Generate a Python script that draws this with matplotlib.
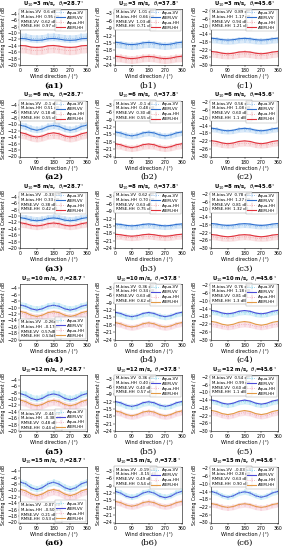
import matplotlib
matplotlib.use('Agg')
import matplotlib.pyplot as plt
import numpy as np

# wind direction samples (deg)
wind_dir = [0, 30, 60, 90, 120, 150, 180, 210, 240, 270, 300, 330, 360]

wind_speed = [3, 6, 8, 10, 12, 15]
inc_angle = [28.7, 37.8, 45.6]
col_letter = ['a', 'b', 'c']

# panels in row order: a1 b1 c1 a2 b2 c2 ...
aiem_vv = [
    [-11.7, -11.8, -12.2, -12.3, -12.2, -11.8, -11.7, -11.9, -12.2, -12.3, -12.2, -11.8, -11.7],
    [-14.7, -15.0, -15.5, -15.7, -15.5, -15.0, -14.8, -15.0, -15.5, -15.7, -15.5, -15.0, -14.7],
    [-16.1, -16.4, -16.9, -17.1, -16.9, -16.4, -16.2, -16.4, -16.9, -17.1, -16.9, -16.4, -16.1],
    [-10.2, -10.6, -11.4, -11.8, -11.4, -10.6, -10.3, -10.6, -11.4, -11.8, -11.4, -10.6, -10.2],
    [-14.0, -14.4, -15.2, -15.6, -15.2, -14.4, -14.1, -14.4, -15.2, -15.6, -15.2, -14.4, -14.0],
    [-15.3, -15.7, -16.4, -16.7, -16.4, -15.7, -15.4, -15.7, -16.4, -16.7, -16.4, -15.7, -15.3],
    [-10.5, -10.8, -11.3, -11.5, -11.3, -10.8, -10.6, -10.8, -11.3, -11.5, -11.3, -10.8, -10.5],
    [-14.2, -14.4, -14.8, -15.0, -14.8, -14.4, -14.2, -14.4, -14.8, -15.0, -14.8, -14.4, -14.2],
    [-17.3, -17.6, -18.1, -18.3, -18.1, -17.6, -17.4, -17.6, -18.1, -18.3, -18.1, -17.6, -17.3],
    [-9.2, -9.6, -10.4, -10.8, -10.4, -9.6, -9.3, -9.6, -10.4, -10.8, -10.4, -9.6, -9.2],
    [-12.9, -13.4, -14.3, -14.7, -14.3, -13.4, -13.0, -13.4, -14.3, -14.7, -14.3, -13.4, -12.9],
    [-14.9, -15.4, -16.3, -16.7, -16.3, -15.4, -15.0, -15.4, -16.3, -16.7, -16.3, -15.4, -14.9],
    [-8.3, -8.8, -9.8, -10.3, -9.8, -8.8, -8.4, -8.8, -9.8, -10.3, -9.8, -8.8, -8.3],
    [-12.0, -12.5, -13.5, -14.0, -13.5, -12.5, -12.1, -12.5, -13.5, -14.0, -13.5, -12.5, -12.0],
    [-13.9, -14.5, -15.6, -16.1, -15.6, -14.5, -14.0, -14.5, -15.6, -16.1, -15.6, -14.5, -13.9],
    [-7.3, -7.9, -9.1, -9.7, -9.1, -7.9, -7.4, -8.0, -9.1, -9.7, -9.1, -7.9, -7.3],
    [-11.3, -12.0, -13.3, -13.9, -13.3, -12.0, -11.4, -12.0, -13.3, -13.9, -13.3, -12.0, -11.3],
    [-13.9, -14.7, -16.2, -16.9, -16.2, -14.7, -14.1, -14.7, -16.2, -16.9, -16.2, -14.7, -13.9],
]
aqua_vv = [
    [-11.2, -11.3, -11.7, -11.8, -11.7, -11.3, -11.2, -11.4, -11.7, -11.8, -11.7, -11.3, -11.2],
    [-15.4, -15.6, -16.0, -16.2, -16.0, -15.6, -15.4, -15.6, -16.0, -16.2, -16.0, -15.6, -15.4],
    [-16.9, -17.1, -17.5, -17.7, -17.5, -17.1, -16.9, -17.1, -17.5, -17.7, -17.5, -17.1, -16.9],
    [-10.2, -10.6, -11.3, -11.6, -11.3, -10.6, -10.3, -10.6, -11.3, -11.6, -11.3, -10.6, -10.2],
    [-14.3, -14.7, -15.4, -15.7, -15.4, -14.7, -14.4, -14.7, -15.4, -15.7, -15.4, -14.7, -14.3],
    [-15.9, -16.2, -16.8, -17.1, -16.8, -16.2, -16.0, -16.2, -16.8, -17.1, -16.8, -16.2, -15.9],
    [-10.3, -10.5, -10.9, -11.1, -10.9, -10.5, -10.3, -10.5, -10.9, -11.1, -10.9, -10.5, -10.3],
    [-14.8, -14.9, -15.3, -15.4, -15.3, -14.9, -14.8, -15.0, -15.3, -15.4, -15.3, -14.9, -14.8],
    [-18.1, -18.3, -18.7, -18.9, -18.7, -18.3, -18.1, -18.3, -18.7, -18.9, -18.7, -18.3, -18.1],
    [-9.1, -9.5, -10.2, -10.5, -10.2, -9.5, -9.2, -9.5, -10.2, -10.5, -10.2, -9.5, -9.1],
    [-13.3, -13.7, -14.5, -14.9, -14.5, -13.7, -13.4, -13.7, -14.5, -14.9, -14.5, -13.7, -13.3],
    [-15.7, -16.1, -16.9, -17.3, -16.9, -16.1, -15.8, -16.1, -16.9, -17.3, -16.9, -16.1, -15.7],
    [-8.1, -8.6, -9.5, -9.9, -9.5, -8.6, -8.2, -8.6, -9.5, -9.9, -9.5, -8.6, -8.1],
    [-12.4, -12.9, -13.8, -14.2, -13.8, -12.9, -12.5, -12.9, -13.8, -14.2, -13.8, -12.9, -12.4],
    [-14.6, -15.1, -16.1, -16.6, -16.1, -15.1, -14.7, -15.1, -16.1, -16.6, -16.1, -15.1, -14.6],
    [-7.3, -7.9, -9.0, -9.5, -9.0, -7.9, -7.4, -7.9, -9.0, -9.5, -9.0, -7.9, -7.3],
    [-11.2, -11.8, -13.0, -13.6, -13.0, -11.8, -11.3, -11.9, -13.0, -13.6, -13.0, -11.8, -11.2],
    [-14.0, -14.7, -16.1, -16.8, -16.1, -14.7, -14.1, -14.8, -16.1, -16.8, -16.1, -14.7, -14.0],
]
aiem_hh = [
    [-13.9, -14.0, -14.4, -14.5, -14.4, -14.0, -13.9, -14.1, -14.4, -14.5, -14.4, -14.0, -13.9],
    [-20.4, -20.7, -21.2, -21.4, -21.2, -20.7, -20.5, -20.7, -21.2, -21.4, -21.2, -20.7, -20.4],
    [-23.0, -23.3, -23.9, -24.2, -23.9, -23.3, -23.1, -23.3, -23.9, -24.2, -23.9, -23.3, -23.0],
    [-12.5, -12.9, -13.6, -13.9, -13.6, -12.9, -12.6, -12.9, -13.6, -13.9, -13.6, -12.9, -12.5],
    [-18.8, -19.2, -20.0, -20.4, -20.0, -19.2, -18.9, -19.2, -20.0, -20.4, -20.0, -19.2, -18.8],
    [-21.8, -22.2, -23.0, -23.4, -23.0, -22.2, -21.9, -22.2, -23.0, -23.4, -23.0, -22.2, -21.8],
    [-12.1, -12.4, -12.9, -13.1, -12.9, -12.4, -12.2, -12.4, -12.9, -13.1, -12.9, -12.4, -12.1],
    [-18.4, -18.6, -19.0, -19.2, -19.0, -18.6, -18.4, -18.6, -19.0, -19.2, -19.0, -18.6, -18.4],
    [-23.0, -23.3, -23.9, -24.2, -23.9, -23.3, -23.1, -23.3, -23.9, -24.2, -23.9, -23.3, -23.0],
    [-11.2, -11.6, -12.4, -12.8, -12.4, -11.6, -11.3, -11.6, -12.4, -12.8, -12.4, -11.6, -11.2],
    [-17.1, -17.6, -18.5, -18.9, -18.5, -17.6, -17.2, -17.6, -18.5, -18.9, -18.5, -17.6, -17.1],
    [-20.6, -21.1, -22.1, -22.6, -22.1, -21.1, -20.7, -21.1, -22.1, -22.6, -22.1, -21.1, -20.6],
    [-10.3, -10.8, -11.7, -12.1, -11.7, -10.8, -10.4, -10.8, -11.7, -12.1, -11.7, -10.8, -10.3],
    [-15.8, -16.3, -17.3, -17.8, -17.3, -16.3, -15.9, -16.3, -17.3, -17.8, -17.3, -16.3, -15.8],
    [-19.3, -19.9, -21.0, -21.5, -21.0, -19.9, -19.4, -19.9, -21.0, -21.5, -21.0, -19.9, -19.3],
    [-9.6, -10.1, -11.1, -11.6, -11.1, -10.1, -9.7, -10.1, -11.1, -11.6, -11.1, -10.1, -9.6],
    [-15.4, -15.9, -16.9, -17.4, -16.9, -15.9, -15.5, -15.9, -16.9, -17.4, -16.9, -15.9, -15.4],
    [-20.2, -20.7, -21.7, -22.2, -21.7, -20.7, -20.3, -20.7, -21.7, -22.2, -21.7, -20.7, -20.2],
]
aqua_hh = [
    [-14.9, -15.0, -15.4, -15.5, -15.4, -15.0, -14.9, -15.1, -15.4, -15.5, -15.4, -15.0, -14.9],
    [-21.0, -21.2, -21.6, -21.8, -21.6, -21.2, -21.0, -21.2, -21.6, -21.8, -21.6, -21.2, -21.0],
    [-24.1, -24.4, -24.9, -25.1, -24.9, -24.4, -24.2, -24.4, -24.9, -25.1, -24.9, -24.4, -24.1],
    [-13.2, -13.5, -14.1, -14.4, -14.1, -13.5, -13.3, -13.5, -14.1, -14.4, -14.1, -13.5, -13.2],
    [-19.5, -19.8, -20.4, -20.7, -20.4, -19.8, -19.6, -19.8, -20.4, -20.7, -20.4, -19.8, -19.5],
    [-23.0, -23.3, -23.9, -24.2, -23.9, -23.3, -23.1, -23.3, -23.9, -24.2, -23.9, -23.3, -23.0],
    [-12.5, -12.7, -13.1, -13.3, -13.1, -12.7, -12.5, -12.7, -13.1, -13.3, -13.1, -12.7, -12.5],
    [-19.2, -19.3, -19.7, -19.8, -19.7, -19.3, -19.2, -19.4, -19.7, -19.8, -19.7, -19.3, -19.2],
    [-24.1, -24.4, -24.9, -25.1, -24.9, -24.4, -24.2, -24.4, -24.9, -25.1, -24.9, -24.4, -24.1],
    [-11.7, -12.1, -12.8, -13.1, -12.8, -12.1, -11.8, -12.1, -12.8, -13.1, -12.8, -12.1, -11.7],
    [-17.5, -17.9, -18.7, -19.1, -18.7, -17.9, -17.6, -17.9, -18.7, -19.1, -18.7, -17.9, -17.5],
    [-22.0, -22.4, -23.2, -23.6, -23.2, -22.4, -22.1, -22.4, -23.2, -23.6, -23.2, -22.4, -22.0],
    [-10.8, -11.2, -12.0, -12.4, -12.0, -11.2, -10.9, -11.2, -12.0, -12.4, -12.0, -11.2, -10.8],
    [-16.3, -16.8, -17.7, -18.1, -17.7, -16.8, -16.4, -16.8, -17.7, -18.1, -17.7, -16.8, -16.3],
    [-20.4, -20.9, -21.9, -22.4, -21.9, -20.9, -20.5, -20.9, -21.9, -22.4, -21.9, -20.9, -20.4],
    [-10.2, -10.7, -11.6, -12.0, -11.6, -10.7, -10.3, -10.7, -11.6, -12.0, -11.6, -10.7, -10.2],
    [-15.7, -16.2, -17.1, -17.5, -17.1, -16.2, -15.8, -16.2, -17.1, -17.5, -17.1, -16.2, -15.7],
    [-20.6, -21.1, -22.0, -22.4, -22.0, -21.1, -20.7, -21.1, -22.0, -22.4, -22.0, -21.1, -20.6],
]
# Aqua standard deviation per panel (dB)
vv_std = [1.2, 1.5, 1.6, 1.0, 1.2, 1.3, 0.9, 1.1, 1.3, 1.0, 1.1, 1.3, 1.0, 1.1, 1.3, 1.0, 1.1, 1.3]
hh_std = [1.3, 1.6, 1.8, 1.1, 1.3, 1.5, 1.0, 1.2, 1.5, 1.1, 1.2, 1.4, 1.1, 1.2, 1.4, 1.1, 1.2, 1.4]

# M-bias-VV, M-bias-HH, RMSE-VV, RMSE-HH
stats = [
    ['0.6 dB', '0.95 dB', '0.62 dB', '0.97 dB'],
    ['1.01 dB', '0.66 dB', '1.03 dB', '0.71 dB'],
    ['0.89 dB', '1.17 dB', '0.94 dB', '1.21 dB'],
    ['-0.1 dB', '0.51 dB', '0.18 dB', '0.55 dB'],
    ['-0.1 dB', '0.48 dB', '0.30 dB', '0.55 dB'],
    ['0.56 dB', '1.08 dB', '0.60 dB', '1.1 dB'],
    ['-0.33 dB', '0.33 dB', '0.38 dB', '0.42 dB'],
    ['0.62 dB', '0.70 dB', '0.63 dB', '0.75 dB'],
    ['0.78 dB', '1.27 dB', '0.81 dB', '1.32 dB'],
    ['-0.26dB', '-0.17dB', '0.57dB', '0.53dB'],
    ['0.36 dB', '0.34 dB', '0.63 dB', '0.62 dB'],
    ['0.76 dB', '1.18 dB', '0.81 dB', '1.3 dB'],
    ['-0.44 dB', '-0.38 dB', '0.48 dB', '0.44 dB'],
    ['0.36 dB', '0.40 dB', '0.40 dB', '0.57 dB'],
    ['0.54 dB', '0.99 dB', '0.60 dB', '1.1 dB'],
    ['-0.07 dB', '-0.50 dB', '0.21 dB', '0.53 dB'],
    ['-0.19 dB', '-0.15 dB', '0.49 dB', '0.54 dB'],
    ['-0.03 dB', '0.28 dB', '0.63 dB', '0.90 dB'],
]

ylims = [(-20, -2.5), (-24, -1.2), (-30, -1.0)]
yticks = [np.arange(-20, -3, 2), np.arange(-24, -2, 3), np.arange(-30, -1, 4)]

W, H = 288, 550
fig = plt.figure(figsize=(W / 100, H / 100), dpi=100)
fig.patch.set_facecolor('white')

col_left = [20, 115, 211]
ax_w, ax_h = 67, 56

for i, u in enumerate(wind_speed):
    top = 9 + 91.5 * i
    for j, th in enumerate(inc_angle):
        k = i * 3 + j
        ax = fig.add_axes([col_left[j] / W, 1 - (top + ax_h) / H, ax_w / W, ax_h / H])

        if i < 3:
            c_vv, c_qvv, c_hh, c_qhh = '#2f6fd0', '#7db4ea', '#e0303a', '#f09aa0'
        else:
            c_vv, c_qvv, c_hh, c_qhh = '#4a4ad8', '#74cdea', '#e39a45', '#f0a0b4'

        vq = np.array(aqua_vv[k])
        hq = np.array(aqua_hh[k])
        ax.fill_between(wind_dir, vq - vv_std[k], vq + vv_std[k], color=c_qvv, alpha=0.28, lw=0)
        ax.fill_between(wind_dir, hq - hh_std[k], hq + hh_std[k], color=c_qhh, alpha=0.28, lw=0)
        ax.errorbar(wind_dir, vq, yerr=vv_std[k], color=c_qvv, ls=':', lw=0.6,
                    elinewidth=0.3, capsize=0, label='Aqua-VV')
        ax.errorbar(wind_dir, hq, yerr=hh_std[k], color=c_qhh, ls=':', lw=0.6,
                    elinewidth=0.3, capsize=0, label='Aqua-HH')
        ax.plot(wind_dir, aiem_vv[k], color=c_vv, lw=0.8, label='AIEM-VV')
        ax.plot(wind_dir, aiem_hh[k], color=c_hh, lw=0.8, label='AIEM-HH')

        ax.set_xlim(0, 360)
        ax.set_xticks([0, 90, 180, 270, 360])
        ax.set_ylim(*ylims[j])
        ax.set_yticks(yticks[j])
        ax.tick_params(labelsize=3.3, length=1.2, width=0.3, pad=1)
        for s in ax.spines.values():
            s.set_linewidth(0.4)

        ax.set_title(r'U$_{10}$=%d m/s,  $\theta_i$=%.1f$^\circ$' % (u, th),
                     fontsize=3.8, pad=1.5, fontweight='bold')
        ax.set_xlabel('Wind direction / (°)', fontsize=3.6, labelpad=0.8)
        ax.set_ylabel('Scattering Coefficient / dB', fontsize=3.3, labelpad=1)

        s = stats[k]
        txt = ('M-bias-VV  %s\nM-bias-HH  %s\nRMSE-VV  %s\nRMSE-HH  %s'
               % (s[0], s[1], s[2], s[3]))
        bottom_box = (i >= 3 and j == 0)
        handles, labels = ax.get_legend_handles_labels()
        order = [2, 0, 3, 1]
        if bottom_box:
            ax.text(0.01, 0.02, txt, transform=ax.transAxes, fontsize=2.9,
                    va='bottom', ha='left', linespacing=1.25,
                    bbox=dict(boxstyle='square,pad=0.3', fc='white', ec='#888888', lw=0.3))
            leg_loc = 'lower right'
        else:
            ax.text(0.01, 0.98, txt, transform=ax.transAxes, fontsize=2.9,
                    va='top', ha='left', linespacing=1.25,
                    bbox=dict(boxstyle='square,pad=0.3', fc='white', ec='#888888', lw=0.3))
            leg_loc = 'upper right'
        leg = ax.legend([handles[o] for o in order], [labels[o] for o in order],
                        loc=leg_loc, fontsize=2.9, handlelength=2.2, handletextpad=0.5,
                        borderpad=0.3, labelspacing=0.25, borderaxespad=0.15,
                        frameon=True, fancybox=False)
        leg.get_frame().set_linewidth(0.3)
        leg.get_frame().set_edgecolor('#888888')

        fig.text((col_left[j] + ax_w / 2) / W, 1 - (top + 76.5) / H,
                 '(%s%d)' % (col_letter[j], i + 1), ha='center', va='center',
                 fontsize=6, family='serif',
                 fontweight='bold' if j == 0 else 'normal')

fig.savefig('out.png', dpi=100, facecolor='white')
